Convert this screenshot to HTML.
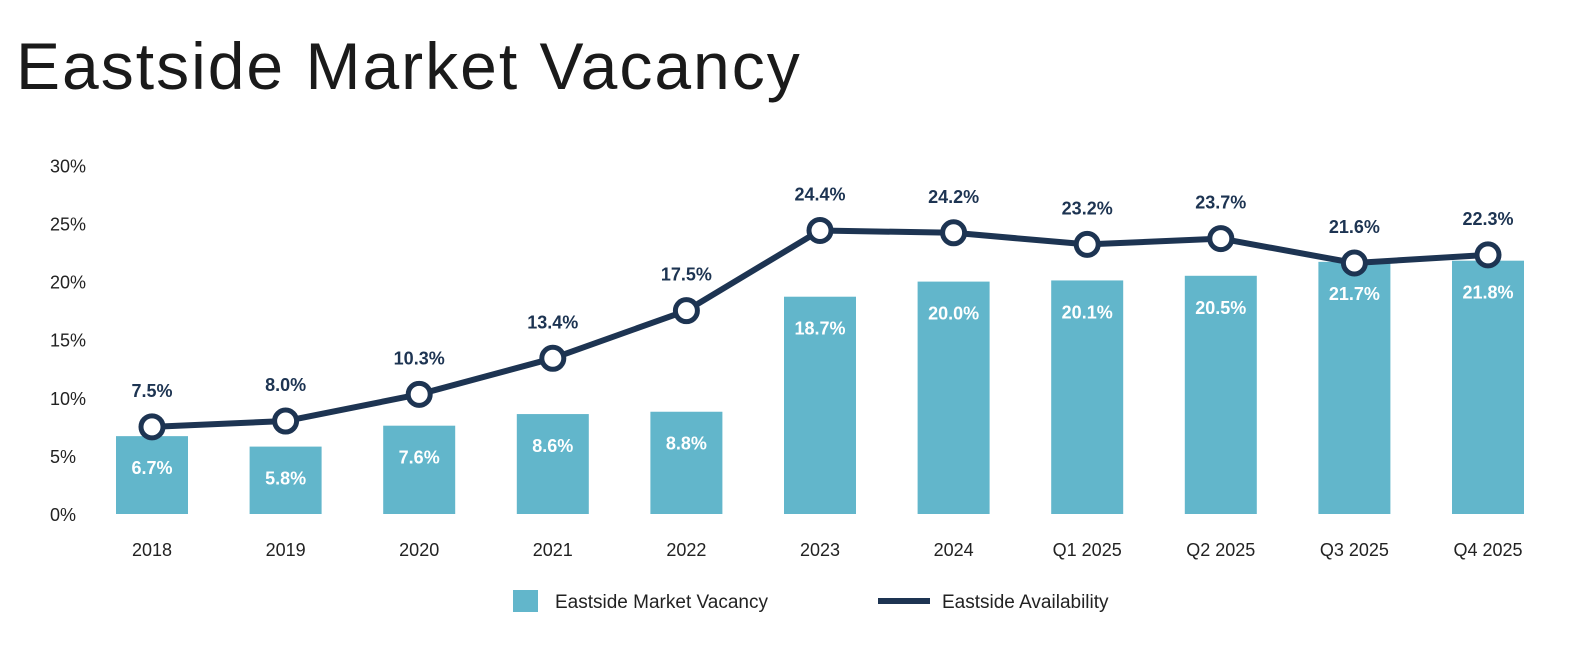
<!DOCTYPE html>
<html><head><meta charset="utf-8"><style>
body{margin:0;background:#fff;width:1588px;height:648px;overflow:hidden;font-family:"Liberation Sans",sans-serif}
#title{position:absolute;left:16px;top:28px;font-size:66px;color:#1a1a1a;letter-spacing:2px;font-weight:normal}
svg{position:absolute;left:0;top:0}
</style></head><body>
<div id="title">Eastside Market Vacancy</div>
<svg id="chart" width="1588" height="648"></svg>
<script>
const categories=["2018","2019","2020","2021","2022","2023","2024","Q1 2025","Q2 2025","Q3 2025","Q4 2025"];
const vacancy=[6.7,5.8,7.6,8.6,8.8,18.7,20.0,20.1,20.5,21.7,21.8];
const availability=[7.5,8.0,10.3,13.4,17.5,24.4,24.2,23.2,23.7,21.6,22.3];
const yTicks=[0,5,10,15,20,25,30];
const NS="http://www.w3.org/2000/svg";
const svg=document.getElementById('chart');
const y=v=>514-v*11.62;
const x=i=>152+i*133.6;
function mk(t,a,txt){const e=document.createElementNS(NS,t);for(const k in a)e.setAttribute(k,a[k]);if(txt!=null)e.textContent=txt;svg.appendChild(e);return e;}
yTicks.forEach(t=>{const e=mk('text',{x:50,y:y(t)+7,'font-size':18,fill:'#222'},t+'%');

});
categories.forEach((c,i)=>{const e=mk('text',{x:x(i),y:556,'font-size':18,fill:'#222','text-anchor':'middle'},c);

});
vacancy.forEach((v,i)=>{const b=mk('rect',{x:x(i)-36,y:y(v),width:72,height:514-y(v),fill:'#62b6cb'});


const t=mk('text',{x:x(i),y:y(v)+38,'font-size':18,'font-weight':'bold',fill:'#fff','text-anchor':'middle'},v.toFixed(1)+'%');

});
const p=mk('polyline',{points:availability.map((v,i)=>x(i)+','+y(v)).join(' '),fill:'none',stroke:'#1d3452','stroke-width':6,'stroke-linejoin':'round'});


availability.forEach((v,i)=>{const c=mk('circle',{cx:x(i),cy:y(v),r:11,fill:'#fff',stroke:'#1d3452','stroke-width':5});


const t=mk('text',{x:x(i),y:y(v)-30,'font-size':18,'font-weight':'bold',fill:'#1d3452','text-anchor':'middle'},v.toFixed(1)+'%');

});
const l1=mk('rect',{x:513,y:590,width:25,height:22,fill:'#62b6cb'});


const l2=mk('text',{x:555,y:608,'font-size':19,fill:'#222'},'Eastside Market Vacancy');


const l3=mk('line',{x1:878,y1:601,x2:930,y2:601,stroke:'#1d3452','stroke-width':6});


const l4=mk('text',{x:942,y:608,'font-size':19,fill:'#222'},'Eastside Availability');


</script>
</body></html>
